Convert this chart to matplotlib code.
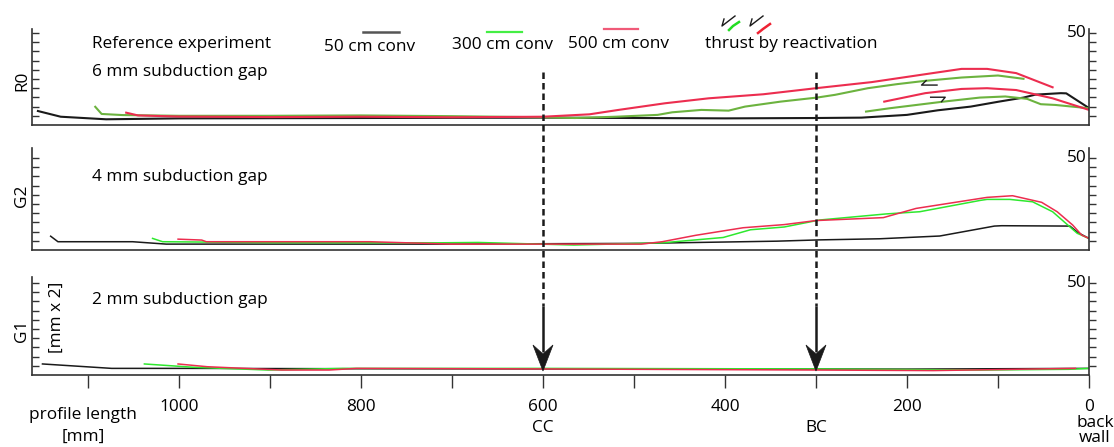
import matplotlib
matplotlib.use("Agg")
import matplotlib.pyplot as plt
from matplotlib.patches import Polygon
from matplotlib.ticker import FixedLocator

# ---------------- data (profile length in mm, topography value) ----------------
r0_50_x = [1155, 1130, 1080, 1000, 800, 600, 400, 300, 250, 200, 166, 130, 99, 72, 59, 31, 25, 0]
r0_50_y = [7.6, 4.5, 3.1, 3.6, 3.8, 4.0, 3.6, 3.8, 4.0, 5.5, 8.0, 10.0, 12.7, 14.9, 16.5, 17.3, 17.2, 9.2]

r0_300_x = [1092, 1085, 1062, 1000, 900, 800, 700, 600, 565, 520, 474, 458, 426, 396, 378, 339, 299, 279, 243, 211, 180, 140, 100, 72]
r0_300_y = [9.9, 6.0, 5.4, 5.0, 5.0, 5.2, 4.8, 4.2, 3.8, 4.5, 5.5, 6.9, 8.2, 7.8, 10.0, 12.7, 14.9, 16.4, 20.0, 22.2, 24.0, 25.8, 26.9, 25.1]
r0_300t_x = [245, 219, 160, 120, 92, 68, 53, 37, 0]
r0_300t_y = [7.3, 9.1, 12.7, 14.9, 15.5, 14.2, 11.3, 10.9, 9.1]

r0_500_x = [1058, 1045, 1000, 900, 800, 700, 600, 549, 517, 466, 418, 358, 300, 239, 180, 140, 112, 80, 40]
r0_500_y = [6.7, 5.2, 4.6, 4.3, 4.5, 4.2, 4.5, 5.8, 8.2, 11.8, 14.5, 16.7, 20.0, 23.3, 27.6, 30.5, 30.5, 28.2, 20.5]
r0_500t_x = [225, 180, 140, 112, 80, 40, 0]
r0_500t_y = [12.7, 17.3, 19.6, 20.0, 19.0, 14.5, 8.2]

g2_50_x = [1141, 1133, 1051, 1014, 716, 492, 343, 296, 230, 164, 104, 96, 21, 12, 0]
g2_50_y = [7.5, 4.5, 4.5, 3.2, 3.2, 3.6, 4.8, 5.5, 6.1, 7.6, 13.0, 13.2, 13.0, 9.4, 6.3]
g2_300_x = [1029, 1018, 900, 716, 671, 566, 469, 402, 372, 335, 296, 223, 186, 119, 112, 87, 62, 40, 13, 0]
g2_300_y = [6.3, 4.5, 4.0, 3.9, 4.1, 2.7, 3.9, 6.8, 11.0, 12.5, 16.3, 19.6, 20.8, 27.0, 27.5, 27.5, 26.2, 20.8, 9.1, 6.3]
g2_500_x = [1001, 975, 970, 790, 701, 492, 469, 432, 380, 335, 300, 226, 190, 112, 84, 52, 35, 18, 8, 0]
g2_500_y = [5.9, 5.4, 4.5, 4.5, 3.2, 3.2, 4.5, 8.0, 12.1, 13.8, 16.0, 17.6, 22.6, 28.6, 29.5, 25.9, 20.8, 13.6, 8.1, 6.3]

g1_50_x = [1150, 1074, 992, 800, 600, 400, 200, 0]
g1_50_y = [6.0, 3.6, 3.6, 3.4, 3.3, 3.3, 3.2, 3.6]
g1_300_x = [1038, 984, 902, 820, 600, 300, 119, 22, 0]
g1_300_y = [6.0, 4.2, 2.7, 3.6, 3.6, 3.3, 2.7, 3.1, 3.6]
g1_500_x = [1001, 969, 887, 835, 805, 600, 300, 171, 15]
g1_500_y = [6.0, 4.5, 2.7, 2.7, 3.6, 3.3, 2.7, 2.4, 3.6]

# thrust half-arrow symbols in R0 (mm, value)
thrust_up_x = [179, 184, 167]
thrust_up_y = [24.1, 21.7, 21.7]
thrust_lo_x = [174, 158, 162]
thrust_lo_y = [15.1, 15.1, 12.7]

x_major = [1000, 800, 600, 400, 200, 0]
x_minor = [1100, 900, 700, 500, 300, 100]
markers = [600, 300]
marker_labels = ["CC", "BC"]
panel_names = ["R0", "G2", "G1"]
panel_texts = [["Reference experiment", "6 mm subduction gap"], ["4 mm subduction gap"], ["2 mm subduction gap"]]
legend_labels = ["50 cm conv", "300 cm conv", "500 cm conv", "thrust by reactivation"]

# ---------------- style ----------------
W, H, DPI = 1114, 447, 100
plt.rcParams['font.family'] = ['Open Sans', 'DejaVu Sans']
FS = 12.4
BLACK = '#1a1a1a'
OLIVE = '#6cb33f'
LIME = '#2ee82e'
RED = '#ec2d4f'
SPINE = '#333333'

fig = plt.figure(figsize=(W / DPI, H / DPI), dpi=DPI)
fig.patch.set_facecolor('white')


def rect(left, top, right, bottom):
    return [left / W, 1 - bottom / H, (right - left) / W, (bottom - top) / H]


XL = (1161.5, 0)
panels = [rect(32, 29, 1089, 125), rect(32, 148, 1089, 250), rect(32, 277, 1089, 375)]
ytops = [50 * 96 / 92, 50 * 102 / 92, 50 * 98 / 92]

axes = []
for i, (r, yt) in enumerate(zip(panels, ytops)):
    ax = fig.add_axes(r)
    ax.set_xlim(*XL)
    ax.set_ylim(0, yt)
    ax.patch.set_visible(False)
    ax.spines['top'].set_visible(False)
    for s in ['left', 'right', 'bottom']:
        ax.spines[s].set_color(SPINE)
        ax.spines[s].set_linewidth(1.2)
    ax.set_yticks(range(5, 51, 5))
    ax.tick_params(axis='y', which='both', direction='in', length=5, width=1.0,
                   color=SPINE, left=True, right=False, labelleft=False)
    axr = ax.twinx()
    axr.set_ylim(0, yt)
    axr.set_yticks(range(5, 51, 5))
    axr.tick_params(axis='y', direction='out', length=5, width=1.0, color=SPINE,
                    labelright=False)
    for s in ['top', 'left', 'bottom', 'right']:
        axr.spines[s].set_visible(False)
    axr.annotate("50", xy=(1, 50), xycoords=('axes fraction', 'data'), xytext=(-2, 0),
                 textcoords='offset points', ha='right', va='center', fontsize=FS)
    if i < 2:
        ax.set_xticks([])
    else:
        ax.xaxis.set_major_locator(FixedLocator(x_major))
        ax.xaxis.set_minor_locator(FixedLocator(x_minor))
        ax.tick_params(axis='x', which='both', direction='out', length=9.5, width=1.0,
                       color=SPINE, labelbottom=False)
    axes.append(ax)

# ---------------- curves ----------------
a0, a1, a2 = axes
lw0, lw1 = 1.5, 1.1
a0.plot(r0_50_x, r0_50_y, color=BLACK, lw=lw0)
a0.plot(r0_300_x, r0_300_y, color=OLIVE, lw=lw0)
a0.plot(r0_300t_x, r0_300t_y, color=OLIVE, lw=lw0)
a0.plot(r0_500_x, r0_500_y, color=RED, lw=lw0)
a0.plot(r0_500t_x, r0_500t_y, color=RED, lw=lw0)
a0.plot(thrust_up_x, thrust_up_y, color=BLACK, lw=1.0)
a0.plot(thrust_lo_x, thrust_lo_y, color=BLACK, lw=1.0)

a1.plot(g2_50_x, g2_50_y, color=BLACK, lw=lw1)
a1.plot(g2_300_x, g2_300_y, color=LIME, lw=lw1)
a1.plot(g2_500_x, g2_500_y, color=RED, lw=lw1)

a2.plot(g1_50_x, g1_50_y, color=BLACK, lw=lw1)
a2.plot(g1_300_x, g1_300_y, color=LIME, lw=lw1)
a2.plot(g1_500_x, g1_500_y, color=RED, lw=lw1)

# ---------------- texts ----------------
def ft(x, y, s, **kw):
    kw.setdefault('fontsize', FS)
    fig.text(x / W, 1 - y / H, s, **kw)


ft(92, 44, panel_texts[0][0], ha='left', va='center')
ft(92, 72, panel_texts[0][1], ha='left', va='center')
ft(92, 177, panel_texts[1][0], ha='left', va='center')
ft(92, 300, panel_texts[2][0], ha='left', va='center')
ft(22, 81, panel_names[0], rotation=90, ha='center', va='center')
ft(22, 196, panel_names[1], rotation=90, ha='center', va='center')
ft(22, 331, panel_names[2], rotation=90, ha='center', va='center')
ft(57, 317, "[mm x 2]", rotation=90, ha='center', va='center')
ft(83, 415, "profile length", ha='center', va='center')
ft(83, 437, "[mm]", ha='center', va='center')

# overlay in pixel coordinates (y down)
ov = fig.add_axes([0, 0, 1, 1], zorder=10)
ov.set_xlim(0, W)
ov.set_ylim(H, 0)
ov.axis('off')


def xpix(ax, xv):
    return ax.transData.transform((xv, 0))[0]


for xv in x_major:
    ov.text(xpix(a2, xv), 407, f"{xv}", ha='center', va='center', fontsize=FS)
for xv, lab in zip(markers, marker_labels):
    ov.text(xpix(a2, xv), 428, lab, ha='center', va='center', fontsize=FS)
ov.text(xpix(a2, 0) + 6, 423, "back", ha='center', va='center', fontsize=FS)
ov.text(xpix(a2, 0) + 6, 438, "wall", ha='center', va='center', fontsize=FS)

# arrows
for xv in markers:
    px = xpix(a2, xv)
    ov.plot([px, px], [72, 306], color=BLACK, lw=1.8, ls=(0, (2.6, 1.6)), solid_capstyle='butt')
    ov.plot([px, px], [306, 352], color=BLACK, lw=1.8, solid_capstyle='butt')
    ov.add_patch(Polygon([[px, 371], [px - 10, 345], [px, 354], [px + 10, 345]],
                         closed=True, facecolor=BLACK, edgecolor=BLACK, lw=0.5))

# legend
ov.plot([363, 399], [32, 32], color='#555555', lw=1.8)
ov.text(370, 47, legend_labels[0], ha='center', va='center', fontsize=FS)
ov.plot([487, 522], [32, 32], color='#44ee44', lw=1.6)
ov.text(502, 45, legend_labels[1], ha='center', va='center', fontsize=FS)
ov.plot([604, 638], [29, 29], color='#f05a78', lw=1.6)
ov.text(619, 44, legend_labels[2], ha='center', va='center', fontsize=FS)
ov.text(791, 44, legend_labels[3], ha='center', va='center', fontsize=FS)
# thrust icon
ov.plot([735, 722, 724], [16, 26, 19], color=BLACK, lw=1.0)
ov.plot([729, 733, 739], [30, 26, 22], color='#22dd22', lw=1.8)
ov.plot([763, 750, 752], [16, 26, 19], color=BLACK, lw=1.0)
ov.plot([758, 763, 770], [33, 29, 24], color='#ee2233', lw=1.8)

fig.savefig("out.png", dpi=DPI, facecolor='white')
